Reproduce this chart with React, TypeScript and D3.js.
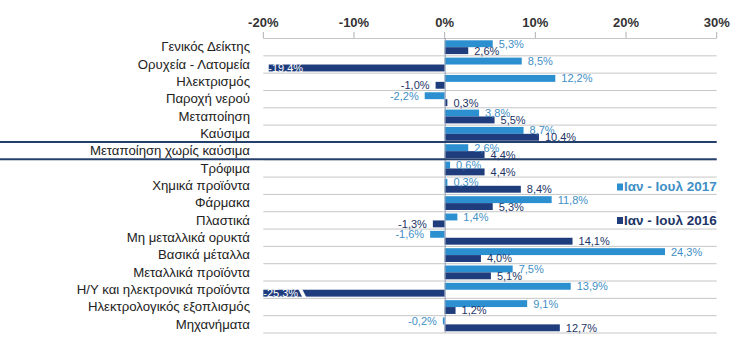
import React, { useEffect, useRef } from 'react';
import * as d3 from 'd3';

const categories = [
  'Γενικός Δείκτης',
  'Ορυχεία - Λατομεία',
  'Ηλεκτρισμός',
  'Παροχή νερού',
  'Μεταποίηση',
  'Καύσιμα',
  'Μεταποίηση χωρίς καύσιμα',
  'Τρόφιμα',
  'Χημικά προϊόντα',
  'Φάρμακα',
  'Πλαστικά',
  'Μη μεταλλικά ορυκτά',
  'Βασικά μέταλλα',
  'Μεταλλικά προϊόντα',
  'Η/Υ και ηλεκτρονικά προϊόντα',
  'Ηλεκτρολογικός εξοπλισμός',
  'Μηχανήματα',
];

const values2017 = [5.3, 8.5, 12.2, -2.2, 3.8, 8.7, 2.6, 0.6, 0.3, 11.8, 1.4, -1.6, 24.3, 7.5, 13.9, 9.1, -0.2];
const values2016 = [2.6, -19.4, -1.0, 0.3, 5.5, 10.4, 4.4, 4.4, 8.4, 5.3, -1.3, 14.1, 4.0, 5.1, -25.3, 1.2, 12.7];

const seriesNames = ['Ιαν - Ιουλ 2017', 'Ιαν - Ιουλ 2016'];
const tickValues = [-20, -10, 0, 10, 20, 30];
const highlighted = 'Μεταποίηση χωρίς καύσιμα';

const LIGHT = '#2b8fd0';
const DARK = '#1f3c7c';
const LIGHT_TEXT = '#3f8fc6';
const DARK_TEXT = '#1d3566';
const FONT = '"Liberation Sans", Arial, sans-serif';

const App: React.FC = () => {
  const svgRef = useRef<SVGSVGElement>(null);
  const width = 747;
  const height = 353;

  useEffect(() => {
    if (!svgRef.current) return;
    const svg = d3.select(svgRef.current);
    svg.selectAll('*').remove();

    const x = d3.scaleLinear().domain([-20, 30]).range([263.3, 716.7]);
    const y = d3.scaleBand<string>().domain(categories).range([38, 332.5]).padding(0);
    const inner = d3.scaleBand<string>().domain(seriesNames).range([2.3, 16.1]).padding(0);

    const fmt = (v: number) => v.toFixed(1).replace('.', ',') + '%';

    // row gridlines
    const bounds = categories.map(c => y(c)!).concat([y.range()[1]]);
    svg.append('g')
      .selectAll('line')
      .data(bounds)
      .join('line')
      .attr('x1', x(-20))
      .attr('x2', x(30))
      .attr('y1', d => d + 0.5)
      .attr('y2', d => d + 0.5)
      .attr('stroke', '#c6c6c6')
      .attr('stroke-width', 1);

    // top axis ticks + labels
    const axis = svg.append('g');
    axis.selectAll('line')
      .data(tickValues)
      .join('line')
      .attr('x1', d => x(d))
      .attr('x2', d => x(d))
      .attr('y1', 32)
      .attr('y2', 38)
      .attr('stroke', '#b0b0b0');
    axis.selectAll('text')
      .data(tickValues)
      .join('text')
      .attr('x', d => x(d))
      .attr('y', 27)
      .attr('text-anchor', 'middle')
      .attr('font-family', FONT)
      .attr('font-size', 13)
      .attr('font-weight', 'bold')
      .attr('fill', '#333')
      .text(d => `${d}%`);

    // category labels
    svg.append('g')
      .selectAll('text')
      .data(categories)
      .join('text')
      .attr('x', 250)
      .attr('y', d => y(d)! + y.bandwidth() / 2)
      .attr('dy', '0.36em')
      .attr('text-anchor', 'end')
      .attr('font-family', FONT)
      .attr('font-size', 13.2)
      .attr('fill', '#222')
      .text(d => d);

    // bars
    const rows = categories.flatMap((c, i) => [
      { cat: c, series: seriesNames[0], v: values2017[i], color: LIGHT, text: LIGHT_TEXT },
      { cat: c, series: seriesNames[1], v: values2016[i], color: DARK, text: DARK_TEXT },
    ]);
    const x0 = x(0);
    const xMin = x(-20);
    const barY = (d: any) => y(d.cat)! + inner(d.series)!;
    const bh = inner.bandwidth();

    svg.append('g')
      .selectAll('rect')
      .data(rows)
      .join('rect')
      .attr('x', d => Math.max(xMin, Math.min(x(d.v), x0)))
      .attr('y', barY)
      .attr('width', d => Math.max(Math.abs(Math.max(xMin, x(d.v)) - x0), 0.8))
      .attr('height', bh)
      .attr('fill', d => d.color);

    // break marker on clipped bars
    const clipped = rows.filter(d => d.v < -20);
    svg.append('g')
      .selectAll('polygon')
      .data(clipped)
      .join('polygon')
      .attr('points', d => {
        const yy = barY(d);
        const a = xMin + 35;
        return `${a},${yy - 0.5} ${a + 4},${yy - 0.5} ${a + 8},${yy + bh + 0.5} ${a + 4},${yy + bh + 0.5}`;
      })
      .attr('fill', '#fff');

    // zero line
    svg.append('line')
      .attr('x1', x0 + 0.5)
      .attr('x2', x0 + 0.5)
      .attr('y1', 38)
      .attr('y2', 332.5)
      .attr('stroke', '#8c9cb3')
      .attr('stroke-width', 1);

    // value labels
    svg.append('g')
      .selectAll('text')
      .data(rows)
      .join('text')
      .attr('x', d => {
        if (d.v < -15) return xMin + (d.v < -20 ? 0 : 5);
        return d.v >= 0 ? x(d.v) + 6 : x(d.v) - 6;
      })
      .attr('y', d => barY(d) + bh + 0.5)
      .attr('text-anchor', d => (d.v >= 0 || d.v < -15 ? 'start' : 'end'))
      .attr('font-family', FONT)
      .attr('font-size', 11)
      .attr('fill', d => (d.v < -15 ? '#fff' : d.text))
      .text(d => fmt(d.v));

    // highlighted row separators
    const hy = y(highlighted)!;
    svg.append('g')
      .selectAll('line')
      .data([hy, hy + y.bandwidth()])
      .join('line')
      .attr('x1', 0)
      .attr('x2', x(30))
      .attr('y1', d => d)
      .attr('y2', d => d)
      .attr('stroke', '#243f6b')
      .attr('stroke-width', 2);

    // legend
    const legend = svg.append('g');
    const legendItems = [
      { name: seriesNames[0], color: LIGHT, text: LIGHT_TEXT, yy: 191 },
      { name: seriesNames[1], color: DARK, text: DARK_TEXT, yy: 224.5 },
    ];
    legendItems.forEach(it => {
      const t = legend.append('text')
        .attr('x', x(30))
        .attr('y', it.yy)
        .attr('text-anchor', 'end')
        .attr('font-family', FONT)
        .attr('font-size', 13.5)
        .attr('font-weight', 'bold')
        .attr('fill', it.text)
        .text(it.name);
      const w = (t.node() as SVGTextElement).getComputedTextLength();
      legend.append('rect')
        .attr('x', x(30) - w - 7)
        .attr('y', it.yy - 7.5)
        .attr('width', 6)
        .attr('height', 7)
        .attr('fill', it.color);
    });
  }, []);

  return (
    <svg
      ref={svgRef}
      width={width}
      height={height}
      style={{ position: 'absolute', left: 0, top: 0, background: '#fff' }}
    />
  );
};

export default App;
